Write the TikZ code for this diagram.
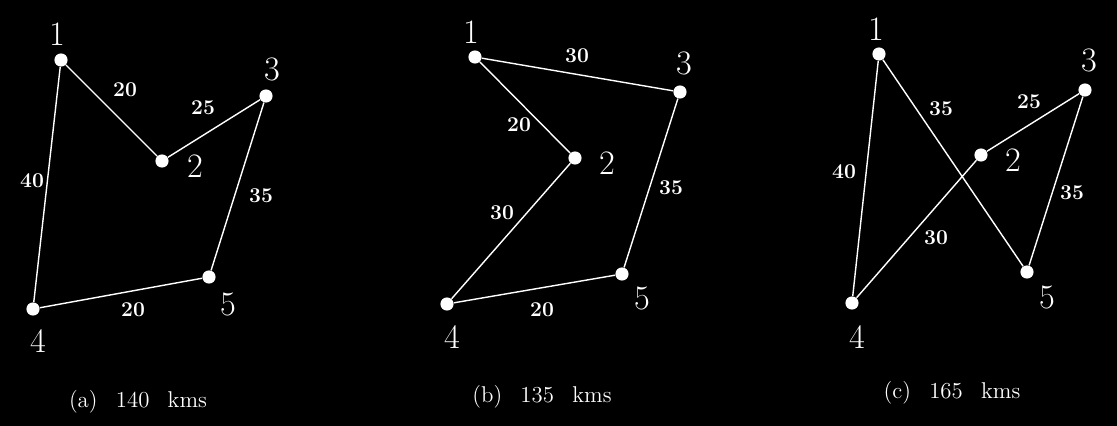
\documentclass[tikz,border=0pt]{standalone}
\usepackage{tikz}
\usetikzlibrary{positioning}

\tikzset{
  city/.style={circle, fill=white, inner sep=0pt, minimum size=7.5pt},
  num/.style={text=white, inner sep=0pt, font=\fontsize{19.5}{20}\selectfont},
  wt/.style={text=white, inner sep=0pt, font=\fontsize{12}{12}\selectfont\bfseries},
  caption/.style={text=white, inner sep=0pt, font=\fontsize{13}{13}\selectfont},
  road/.style={draw=white, line width=0.8pt}
}

\begin{document}
\begin{tikzpicture}[x=0.02cm, y=-0.02cm]
  % Night sky
  \fill[black] (0,0) rectangle (1117,426);

  % (a) 140 kms
  \foreach \n/\x/\y in {1/61/60, 2/162/161, 3/266/96, 4/33/309, 5/209/277}
    \node[city] (a\n) at (\x,\y) {};
  \foreach \n/\x/\y in {1/57/34, 2/195/166, 3/272/69, 4/38/341, 5/228/304}
    \node[num] (la\n) at (\x,\y) {\n};
  \draw[road] (a1) -- (a2) -- (a3) -- (a5) -- (a4) -- (a1);
  \node[wt] (wa12) at (125,90) {20};
  \node[wt] (wa23) at (203,108) {25};
  \node[wt] (wa14) at (32,181) {40};
  \node[wt] (wa35) at (261,196) {35};
  \node[wt] (wa45) at (133,310) {20};
  \node[caption] (capa) at (138,402) {(a)\hspace{0.8em}140\hspace{0.8em}kms};

  % (b) 135 kms
  \foreach \n/\x/\y in {1/475/57, 2/575/158, 3/680/92, 4/447/304, 5/622/274}
    \node[city] (b\n) at (\x,\y) {};
  \foreach \n/\x/\y in {1/471/32, 2/607/163, 3/684/63, 4/452/337, 5/642/298}
    \node[num] (lb\n) at (\x,\y) {\n};
  \draw[road] (b1) -- (b3) -- (b5) -- (b4) -- (b2) -- (b1);
  \node[wt] (wb13) at (577,56) {30};
  \node[wt] (wb12) at (519,125) {20};
  \node[wt] (wb24) at (502,213) {30};
  \node[wt] (wb35) at (671,188) {35};
  \node[wt] (wb45) at (542,310) {20};
  \node[caption] (capb) at (542,397) {(b)\hspace{0.8em}135\hspace{0.8em}kms};

  % (c) 165 kms
  \foreach \n/\x/\y in {1/879/54, 2/981/155, 3/1085/90, 4/852/303, 5/1027/272}
    \node[city] (c\n) at (\x,\y) {};
  \foreach \n/\x/\y in {1/876/29, 2/1013/160, 3/1089/60, 4/857/337, 5/1047/297}
    \node[num] (lc\n) at (\x,\y) {\n};
  \draw[road] (c1) -- (c5) -- (c3) -- (c2) -- (c4) -- (c1);
  \node[wt] (wc15) at (941,109) {35};
  \node[wt] (wc23) at (1029,102) {25};
  \node[wt] (wc14) at (844,172) {40};
  \node[wt] (wc24) at (936,238) {30};
  \node[wt] (wc35) at (1072,193) {35};
  \node[caption] (capc) at (952,393) {(c)\hspace{0.8em}165\hspace{0.8em}kms};
\end{tikzpicture}
\end{document}
